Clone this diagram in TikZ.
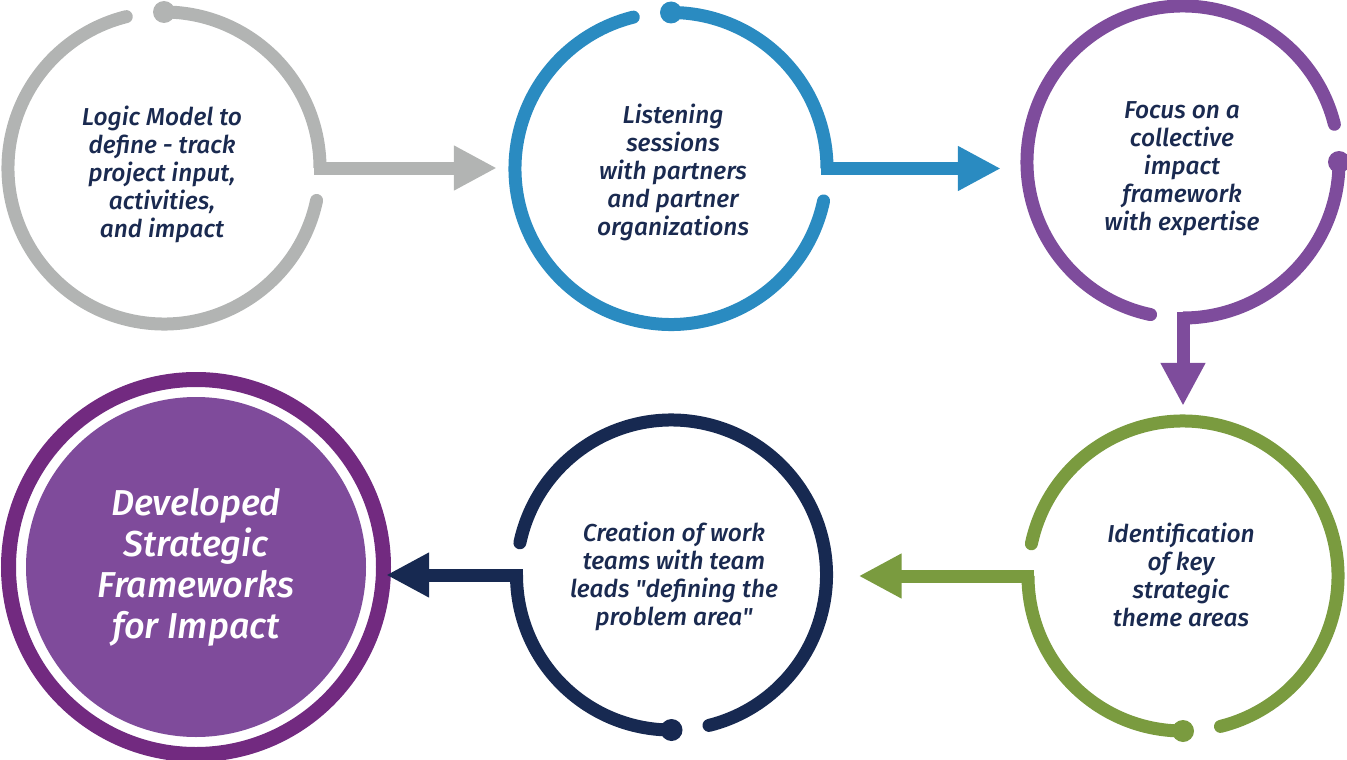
\documentclass[tikz,border=0pt]{standalone}
\usepackage{fontspec}
\setmainfont{Fira Sans}[BoldItalicFont={Fira Sans Medium Italic}]
\usetikzlibrary{arrows.meta,calc}

\definecolor{ringgray}{HTML}{B2B4B3}
\definecolor{ringblue}{HTML}{2A8BC1}
\definecolor{ringpurple}{HTML}{7E4C9C}
\definecolor{ringgreen}{HTML}{7A9B3F}
\definecolor{ringnavy}{HTML}{172951}
\definecolor{textnavy}{HTML}{1A2A50}
\definecolor{goalring}{HTML}{722A80}
\definecolor{goalfill}{HTML}{7F4B9B}

\tikzset{
  stage/.style={circle, minimum size=#1, inner sep=0pt},
  stagetext/.style={align=center, inner sep=0pt,
    font=\fontsize{24.5}{28}\selectfont\bfseries\itshape, text=textnavy},
  ring/.style={line width=13pt, line cap=butt},
  flow/.style={line width=13pt, line cap=butt, -{Triangle[length=43pt,width=42pt]}},
}

% open ring around a stage: dot at angle #3, solid arc to the exit,
% short gap, long arc, short gap back to the dot
\newcommand\stagering[4]{%
  \draw[ring,#2] (#1.center) ++(#3:#4) arc[start angle=#3, end angle=#3+90, radius=#4];
  \draw[ring,#2,line cap=round] (#1.center) ++(#3+102:#4)
    arc[start angle=#3+102, end angle=#3+346, radius=#4];
  \fill[#2] (#1.center) ++(#3:#4) circle[radius=11];
}

\begin{document}
\begin{tikzpicture}[x=1pt,y=-1pt]
\useasboundingbox (0,0) rectangle (1347,760);

% stages
\node[stage=312pt] (c1) at (164,168) {};
\node[stage=312pt] (c2) at (671,168.5) {};
\node[stage=312pt] (c3) at (1183,162) {};
\node[stage=310pt] (c4) at (1183,576) {};
\node[stage=310pt] (c5) at (671.5,575) {};
\node[circle, minimum size=340pt, inner sep=0pt, fill=goalfill, align=center,
  font=\fontsize{36}{41}\selectfont\bfseries\itshape, text=white] (c6) at (196,567)
  {Developed\\Strategic\\Frameworks\\for Impact};

% stage texts
\node[stagetext] (t1) at (162,174.5) {Logic Model to\\define - track\\project input,\\activities,\\and impact};
\node[stagetext] (t2) at (673,172) {Listening\\sessions\\with partners\\and partner\\organizations};
\node[stagetext] (t3) at (1182,168.5) {Focus on a\\collective\\impact\\framework\\with expertise};
\node[stagetext] (t4) at (1181,575) {Identification\\of key\\strategic\\theme areas};
\node[stagetext] (t5) at (674,576.5) {Creation of work\\teams with team\\leads \textquotedbl defining the\\problem area\textquotedbl};

% rings
\stagering{c1}{ringgray}{270}{156}
\stagering{c2}{ringblue}{270}{156}
\stagering{c3}{ringpurple}{0}{156}
\stagering{c4}{ringgreen}{90}{155}
\stagering{c5}{ringnavy}{90}{155}
\draw[goalring, line width=15pt] (c6.center) circle[radius=187.5];

% flow arrows
\draw[flow, ringgray] ([xshift=-6.5pt]c1.east) -- ($(c1.east -| c2.west)+(-18,0)$);
\draw[flow, ringblue] ([xshift=-6.5pt]c2.east) -- ($(c2.east -| c3.west)+(-26,0)$);
\draw[flow, ringpurple] ([yshift=6.5pt]c3.south) -- ($(c3.south |- c4.north)+(0,-15)$);
\draw[flow, ringgreen] ([xshift=6.5pt]c4.west) -- ($(c4.west -| c5.east)+(32,0)$);
\draw[flow, ringnavy] ([xshift=6.5pt]c5.west) -- ($(c5.west -| c6.east)+(20,0)$);
\end{tikzpicture}
\end{document}
